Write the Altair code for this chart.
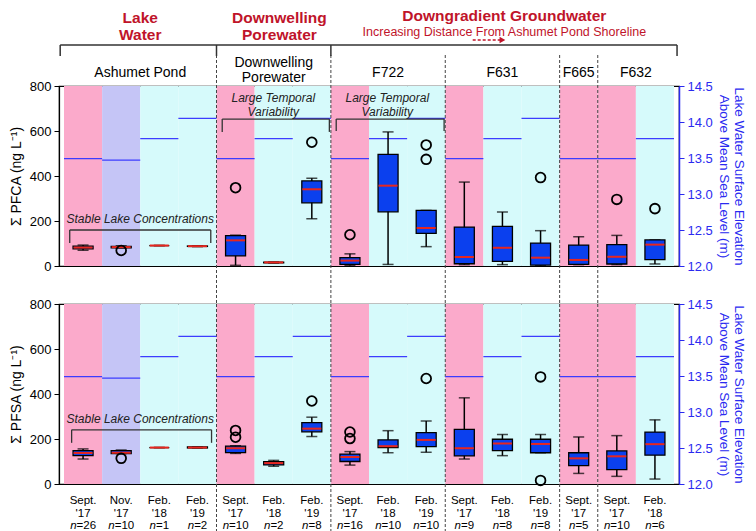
import altair as alt
import pandas as pd

# ---------------- data ----------------
groups = ["Ashumet Pond", "Downwelling Porewater", "F722", "F631", "F665", "F632"]
group_sizes = [4, 3, 3, 3, 1, 2]
months = ["Sept.", "Nov.", "Feb.", "Feb.", "Sept.", "Feb.", "Feb.", "Sept.", "Feb.", "Feb.",
          "Sept.", "Feb.", "Feb.", "Sept.", "Sept.", "Feb."]
years = ["'17", "'17", "'18", "'19", "'17", "'18", "'19", "'17", "'18", "'19",
         "'17", "'18", "'19", "'17", "'17", "'18"]
n_samples = [26, 10, 1, 2, 10, 2, 8, 16, 10, 10, 9, 8, 8, 5, 10, 6]

# lake surface elevation (m above MSL) per sampling event
elev_event = ["Sept. '17", "Nov. '17", "Feb. '18", "Feb. '19"]
elev_value = [13.49, 13.47, 13.77, 14.05]

# Sum PFCA box statistics (ng/L): whisker low, Q1, median, Q3, whisker high
pfca_lo = [70, 80, 91, 86, 3, 13, 210, 2, 7, 86, 6, 6, 2, 6, 6, 9]
pfca_q1 = [76, 81, 91, 87, 45, 14, 281, 7, 241, 145, 10, 21, 4, 7, 9, 28]
pfca_md = [82, 84, 91, 88, 114, 16, 341, 24, 357, 169, 40, 81, 37, 27, 41, 95]
pfca_q3 = [88, 87, 91, 89, 135, 17, 378, 37, 496, 247, 173, 176, 102, 93, 95, 116]
pfca_hi = [93, 90, 91, 90, 137, 18, 390, 54, 596, 247, 373, 240, 157, 130, 136, 116]
pfca_out_slot = [1, 4, 6, 7, 9, 9, 12, 14, 15]
pfca_out_val = [69, 348, 550, 139, 538, 474, 393, 296, 255]

# Sum PFSA box statistics (ng/L)
pfsa_lo = [111, 135, 162, 160, 136, 79, 211, 84, 139, 141, 111, 126, 139, 47, 34, 22]
pfsa_q1 = [126, 135, 162, 160, 139, 85, 232, 100, 162, 166, 125, 148, 139, 82, 64, 128]
pfsa_md = [138, 139, 162, 162, 159, 93, 246, 120, 168, 196, 159, 180, 178, 114, 123, 177]
pfsa_q3 = [148, 148, 162, 165, 168, 99, 273, 133, 196, 228, 243, 199, 199, 139, 147, 231]
pfsa_hi = [156, 151, 162, 165, 170, 105, 297, 144, 237, 280, 383, 220, 220, 209, 215, 285]
pfsa_out_slot = [1, 4, 4, 6, 7, 7, 9, 12, 12]
pfsa_out_val = [114, 238, 208, 369, 231, 202, 469, 476, 16]

# ---------------- style ----------------
W, H = 620, 180
GAP = 38
NS = len(months)
PX = W / NS
FONT = "Liberation Sans"
PINK, LAV, CYAN = "#FBAACB", "#C5C5F6", "#D6FAFB"
BOX = "#0B40EE"
RED = "#E8261E"
BLUE = "#2A2AF0"
LINE = "#3C3CFF"
HRED = "#C0142A"

xs = alt.Scale(domain=[0, NS], nice=False, zero=False)
ys = alt.Scale(domain=[0, 800], nice=False, zero=False)
es = alt.Scale(domain=[12, 14.5], nice=False, zero=False)

bounds = [0]
for s in group_sizes:
    bounds.append(bounds[-1] + s)

slot_df = pd.DataFrame({
    "x0": list(range(NS)),
    "x1": [i + 1 for i in range(NS)],
    "c": [i + 0.5 for i in range(NS)],
    "month": months,
    "event": [m + " " + y for m, y in zip(months, years)],
})
slot_df["elev"] = slot_df["event"].map(dict(zip(elev_event, elev_value)))


def X(f, axis=None):
    return alt.X(f, type="quantitative", scale=xs, axis=axis)


def panel(lo, q1, md, q3, hi, oslot, oval, ytitle, is_top):
    d = slot_df.copy()
    d["lo"], d["q1"], d["md"], d["q3"], d["hi"] = lo, q1, md, q3, hi
    od = pd.DataFrame({"c": [s + 0.5 for s in oslot], "v": oval})

    xaxis = alt.Axis(values=[i + 0.5 for i in range(NS)], labels=False, ticks=True,
                     tickSize=5, tickColor="black", domain=True, domainColor="black",
                     domainWidth=1.2, grid=False, title=None)
    bg = alt.Chart(slot_df).mark_rect().encode(
        x=X("x0", xaxis), x2="x1",
        y=alt.value(0), y2=alt.value(H),
        color=alt.Color("month:N", scale=alt.Scale(domain=["Sept.", "Nov.", "Feb."],
                                                   range=[PINK, LAV, CYAN]), legend=None),
    )
    # group dividers (dashed)
    div_df = pd.DataFrame({"x": bounds[1:-1]})
    ytop = -31 if is_top else 0
    ybot = H + GAP if is_top else H + 70
    divs = alt.Chart(div_df).mark_rule(color="#444", strokeDash=[3, 2], strokeWidth=1).encode(
        x=X("x"), y=alt.value(ytop), y2=alt.value(ybot))
    layers = [bg, divs]

    if is_top:
        hdr = pd.DataFrame({
            "x": [2.0, 2.0, 5.65, 5.65, 11.55],
            "py": [-68, -51, -68, -51, -70],
            "t": ["Lake", "Water", "Downwelling", "Porewater", "Downgradient Groundwater"],
        })
        layers.append(alt.Chart(hdr).mark_text(font=FONT, fontSize=15.5, fontWeight="bold",
                                               color=HRED, baseline="middle").encode(
            x=X("x"), y=alt.Y("py:Q", scale=None), text="t:N"))
        sub = pd.DataFrame({"x": [11.55], "py": [-54],
                            "t": ["Increasing Distance From Ashumet Pond Shoreline"]})
        layers.append(alt.Chart(sub).mark_text(font=FONT, fontSize=12.5, color=HRED,
                                               baseline="middle").encode(
            x=X("x"), y=alt.Y("py:Q", scale=None), text="t:N"))
        arr = pd.DataFrame({"x": [10.72], "x2": [11.45], "py": [-46]})
        layers.append(alt.Chart(arr).mark_rule(color=HRED, strokeDash=[3, 2], strokeWidth=1.3).encode(
            x=X("x"), x2="x2", y=alt.Y("py:Q", scale=None)))
        head = pd.DataFrame({"x": [11.5], "py": [-46]})
        layers.append(alt.Chart(head).mark_point(shape="triangle-right", filled=True, size=45,
                                                 color=HRED, opacity=1).encode(
            x=X("x"), y=alt.Y("py:Q", scale=None)))
        br = pd.DataFrame({"x": [-0.1], "x2": [NS + 0.08], "py": [-41]})
        layers.append(alt.Chart(br).mark_rule(color="#333", strokeWidth=1.5).encode(
            x=X("x"), x2="x2", y=alt.Y("py:Q", scale=None)))
        bt = pd.DataFrame({"x": [-0.1, bounds[1], bounds[2], NS + 0.08]})
        layers.append(alt.Chart(bt).mark_rule(color="#333", strokeWidth=1.5).encode(
            x=X("x"), y=alt.value(-41), y2=alt.value(-30)))
        gl = pd.DataFrame({
            "x": [(bounds[i] + bounds[i + 1]) / 2 for i in range(len(groups))],
            "t": groups,
        })
        gl1 = gl[gl["t"] != "Downwelling Porewater"]
        layers.append(alt.Chart(gl1).mark_text(font=FONT, fontSize=14, color="black",
                                               baseline="middle").encode(
            x=X("x"), y=alt.value(-13), text="t:N"))
        dw = pd.DataFrame({"x": [5.5, 5.5], "py": [-23, -8], "t": ["Downwelling", "Porewater"]})
        layers.append(alt.Chart(dw).mark_text(font=FONT, fontSize=14, color="black",
                                              baseline="middle").encode(
            x=X("x"), y=alt.Y("py:Q", scale=None), text="t:N"))
    else:
        lab = slot_df.copy()
        lab["yr"] = years
        lab["nrest"] = ["=" + str(v) for v in n_samples]
        fs = 11.5
        wn = 0.556 * fs
        lab["tot"] = wn + 0.584 * fs + 0.556 * fs * (lab["nrest"].str.len() - 1)
        lab["split"] = lab["c"] + (wn - lab["tot"] / 2) / PX
        layers.append(alt.Chart(lab).mark_text(font=FONT, fontSize=fs, color="black",
                                               baseline="middle").encode(
            x=X("c"), y=alt.value(H + 17), text="month:N"))
        layers.append(alt.Chart(lab).mark_text(font=FONT, fontSize=fs, color="black",
                                               baseline="middle").encode(
            x=X("c"), y=alt.value(H + 29.5), text="yr:N"))
        layers.append(alt.Chart(lab).mark_text(font=FONT, fontSize=fs, color="black",
                                               fontStyle="italic", align="right",
                                               baseline="middle").encode(
            x=X("split"), y=alt.value(H + 42), text=alt.value("n")))
        layers.append(alt.Chart(lab).mark_text(font=FONT, fontSize=fs, color="black",
                                               align="left", baseline="middle").encode(
            x=X("split"), y=alt.value(H + 42), text="nrest:N"))

    eaxis = alt.Axis(orient="right", values=[12, 12.5, 13, 13.5, 14, 14.5], format=".1f",
                     labelColor=BLUE, tickColor=BLUE, domainColor=BLUE, domainWidth=1.5,
                     tickSize=5, labelFontSize=13, grid=False, labelPadding=3,
                     title=["Lake Water Surface Elevation", "Above Mean Sea Level (m)"],
                     titleColor=BLUE, titleFontSize=13.5, titleFontWeight="normal",
                     titlePadding=4)
    layers.append(alt.Chart(slot_df).mark_rule(color=LINE, strokeWidth=1.3).encode(
        x=X("x0"), x2="x1", y=alt.Y("elev:Q", scale=es, axis=eaxis)))

    yaxis = alt.Axis(orient="left", values=[0, 200, 400, 600, 800], labelFontSize=13,
                     labelColor="black", tickColor="black", tickSize=5, domainColor="black",
                     domainWidth=1.2, grid=False, title=ytitle, titleFontSize=14,
                     titleFontWeight="normal", titleColor="black", titlePadding=6,
                     labelPadding=3)
    layers.append(alt.Chart(d).mark_rule(color="black", strokeWidth=1.5).encode(
        x=X("c"), y=alt.Y("lo:Q", scale=ys, axis=yaxis), y2="hi"))
    layers.append(alt.Chart(d).mark_tick(orient="horizontal", size=11, thickness=1.5, color="black").encode(
        x=X("c"), y=alt.Y("lo:Q", scale=ys, axis=None)))
    layers.append(alt.Chart(d).mark_tick(orient="horizontal", size=11, thickness=1.5, color="black").encode(
        x=X("c"), y=alt.Y("hi:Q", scale=ys, axis=None)))
    layers.append(alt.Chart(d).mark_bar(size=20, color=BOX, stroke="black", strokeWidth=1.3).encode(
        x=X("c"), y=alt.Y("q1:Q", scale=ys, axis=None), y2="q3"))
    layers.append(alt.Chart(d).mark_tick(orient="horizontal", size=19, thickness=2, color=RED, opacity=1).encode(
        x=X("c"), y=alt.Y("md:Q", scale=ys, axis=None)))
    layers.append(alt.Chart(od).mark_point(shape="circle", filled=False, size=95, color="black",
                                           strokeWidth=1.8, opacity=1).encode(
        x=X("c"), y=alt.Y("v:Q", scale=ys, axis=None)))

    # annotations
    if is_top:
        ann = pd.DataFrame({"x": [2.0, 5.49, 5.49, 8.48, 8.48],
                            "y": [209, 747, 684, 747, 684],
                            "t": ["Stable Lake Concentrations", "Large Temporal", "Variability",
                                  "Large Temporal", "Variability"]})
        brk = pd.DataFrame({"x0": [0.15, 4.15, 7.14], "x1": [3.85, 6.96, 9.97],
                            "yt": [160, 653, 653], "yb": [102, 596, 600]})
    else:
        ann = pd.DataFrame({"x": [2.0], "y": [290], "t": ["Stable Lake Concentrations"]})
        brk = pd.DataFrame({"x0": [0.2], "x1": [3.87], "yt": [241], "yb": [183]})
    layers.append(alt.Chart(ann).mark_text(font=FONT, fontSize=12, fontStyle="italic",
                                           color="#222", baseline="middle").encode(
        x=X("x"), y=alt.Y("y:Q", scale=ys, axis=None), text="t:N"))
    layers.append(alt.Chart(brk).mark_rule(color="#333", strokeWidth=1.3).encode(
        x=X("x0"), x2="x1", y=alt.Y("yt:Q", scale=ys, axis=None)))
    ends = pd.concat([brk[["x0", "yt", "yb"]].rename(columns={"x0": "x"}),
                      brk[["x1", "yt", "yb"]].rename(columns={"x1": "x"})])
    layers.append(alt.Chart(ends).mark_rule(color="#333", strokeWidth=1.3).encode(
        x=X("x"), y=alt.Y("yt:Q", scale=ys, axis=None), y2="yb"))

    return alt.layer(*layers).resolve_scale(y="independent").properties(width=W, height=H)


top = panel(pfca_lo, pfca_q1, pfca_md, pfca_q3, pfca_hi, pfca_out_slot, pfca_out_val,
            "Σ PFCA (ng L⁻¹)", True)
bottom = panel(pfsa_lo, pfsa_q1, pfsa_md, pfsa_q3, pfsa_hi, pfsa_out_slot, pfsa_out_val,
               "Σ PFSA (ng L⁻¹)", False)

chart = alt.vconcat(top, bottom, spacing=GAP, bounds="flush").properties(
    padding={"left": 0, "top": 0, "right": 0, "bottom": 0}
).configure_view(stroke="black", strokeWidth=1.2).configure_axis(
    labelFont=FONT, titleFont=FONT
).configure_text(font=FONT)

chart.save("out.html", embed_options={"renderer": "svg", "actions": False})
